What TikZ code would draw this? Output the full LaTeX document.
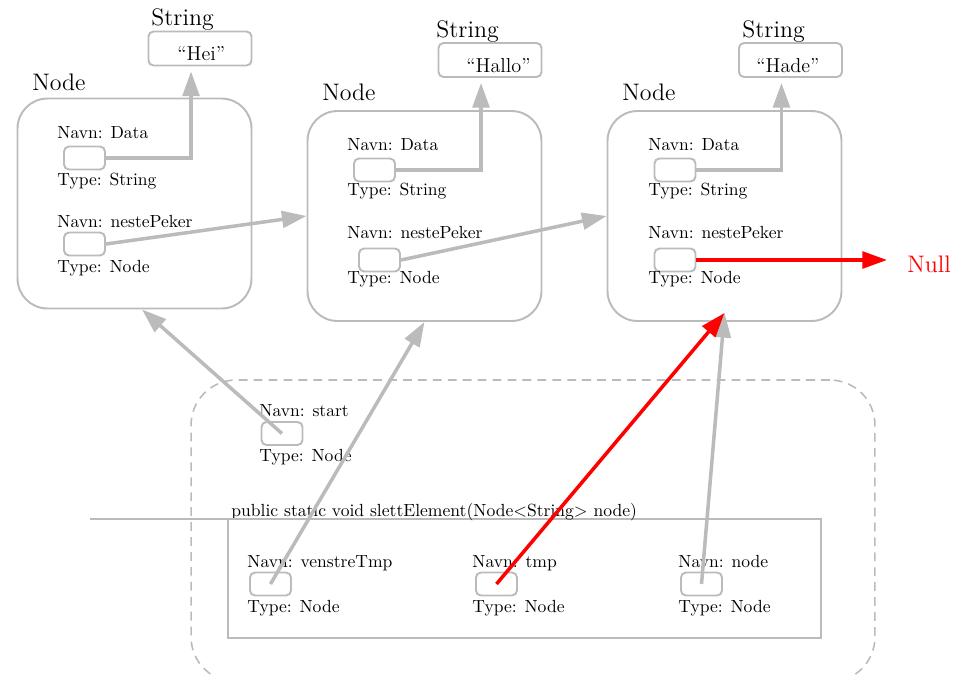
\documentclass[tikz,border=0pt]{standalone}
\usetikzlibrary{arrows.meta}
\definecolor{linegray}{RGB}{187,187,187}

\begin{document}
\begin{tikzpicture}[x=0.02cm, y=-0.02cm,
    objbox/.style={rectangle, draw=linegray, line width=1.1pt, rounded corners=0.6cm, minimum width=4.68cm, minimum height=4.2cm},
    strbox/.style={rectangle, draw=linegray, line width=1.1pt, rounded corners=0.1cm, minimum width=2.06cm, minimum height=0.68cm},
    ptrbox/.style={rectangle, draw=linegray, line width=1.1pt, rounded corners=0.1cm, minimum width=0.82cm, minimum height=0.46cm, inner sep=0pt},
    title/.style={anchor=base west, inner sep=0pt, font=\fontsize{13.6}{16}\selectfont},
    val/.style={anchor=base west, inner sep=0pt, font=\fontsize{11.5}{14}\selectfont},
    lbl/.style={anchor=base west, inner sep=0pt, font=\fontsize{10}{12}\selectfont},
    ref/.style={draw=linegray, line width=2pt, -{Triangle[length=14pt, width=9.5pt]}},
]
    \clip (0,0) rectangle (961,674);

    % the three list objects
    \node[objbox] (n1) at (134.5,203.5) {};
    \node[objbox] (n2) at (424.5,216) {};
    \node[objbox] (n3) at (724.5,216) {};
    \node[title] (n1t) at (32,90) {Node};
    \node[title] (n2t) at (322,100) {Node};
    \node[title] (n3t) at (622,100) {Node};

    \node[strbox] (s1) at (200,48.5) {};
    \node[strbox] (s2) at (490,60) {};
    \node[strbox] (s3) at (790.5,60) {};
    \node[title] (s1t) at (151,25) {String};
    \node[title] (s2t) at (436,37) {String};
    \node[title] (s3t) at (742,37) {String};
    \node[val] (s1v) at (177,60) {“Hei”};
    \node[val] (s2v) at (466,72) {“Hallo”};
    \node[val] (s3v) at (756,72) {“Hade”};

    \node[ptrbox] (d1) at (84.5,158) {};
    \node[lbl] (d1n) at (57,138) {Navn: Data};
    \node[lbl] (d1t) at (57,185) {Type: String};
    \node[ptrbox] (p1) at (84.5,244) {};
    \node[lbl] (p1n) at (57,227) {Navn: nestePeker};
    \node[lbl] (p1t) at (57,272) {Type: Node};

    \node[ptrbox] (d2) at (374.5,170) {};
    \node[lbl] (d2n) at (347,150) {Navn: Data};
    \node[lbl] (d2t) at (347,195) {Type: String};
    \node[ptrbox] (p2) at (379.5,260) {};
    \node[lbl] (p2n) at (347,238) {Navn: nestePeker};
    \node[lbl] (p2t) at (347,283) {Type: Node};

    \node[ptrbox] (d3) at (675,170) {};
    \node[lbl] (d3n) at (648,150) {Navn: Data};
    \node[lbl] (d3t) at (648,195) {Type: String};
    \node[ptrbox] (p3) at (675,260) {};
    \node[lbl] (p3n) at (648,238) {Navn: nestePeker};
    \node[lbl] (p3t) at (648,283) {Type: Node};

    \node[title, text=red] (null) at (907,272) {Null};

    % stack
    \node[rectangle, draw=linegray, line width=0.9pt, dash pattern=on 5pt off 3.5pt, rounded corners=0.9cm, minimum width=13.68cm, minimum height=6.04cm] (stack) at (533,531) {};
    \node[ptrbox] (st) at (282,433.5) {};
    \node[lbl] (stn) at (259,416) {Navn: start};
    \node[lbl] (stt) at (259,461) {Type: Node};

    \node[rectangle, draw=linegray, line width=1.1pt, minimum width=11.86cm, minimum height=2.38cm] (meth) at (524.5,578.5) {};
    \node[lbl] (methname) at (231,516) {public static void slettElement(Node\textless String\textgreater{} node)};
    \coordinate (cut) at (90,519);
    \draw[linegray, line width=1.1pt] (cut) -- (cut -| 383,0);

    \node[ptrbox] (vt) at (270.5,584) {};
    \node[lbl] (vtn) at (247,567) {Navn: venstreTmp};
    \node[lbl] (vtt) at (247,612) {Type: Node};
    \node[ptrbox] (tmp) at (496.5,584) {};
    \node[lbl] (tmpn) at (472,567) {Navn: tmp};
    \node[lbl] (tmpt) at (472,612) {Type: Node};
    \node[ptrbox] (nd) at (701.5,584) {};
    \node[lbl] (ndn) at (678,567) {Navn: node};
    \node[lbl] (ndt) at (678,612) {Type: Node};

    % pointers
    \draw[ref, shorten >=0.1cm] (d1.east) -| ([xshift=-0.18cm]s1.south);
    \draw[ref, shorten >=0.1cm] (d2.east) -| ([xshift=-0.18cm]s2.south);
    \draw[ref, shorten >=0.1cm] (d3.east) -| ([xshift=-0.18cm]s3.south);
    \draw[ref] (p1.east) -- (n2.west);
    \draw[ref] (p2.east) -- (n3.west);
    \draw[ref, draw=red, shorten >=0.4cm] (p3.east) -- (p3.east -| null.west);

    \draw[ref] (st.center) -- ([xshift=0.15cm]n1.south);
    \draw[ref] (vt.center) -- (n2.south);
    \draw[ref] (nd.center) -- ([yshift=0.18cm]n3.south);
    \draw[ref, draw=red] (tmp.center) -- ([yshift=0.18cm]n3.south);
\end{tikzpicture}
\end{document}
